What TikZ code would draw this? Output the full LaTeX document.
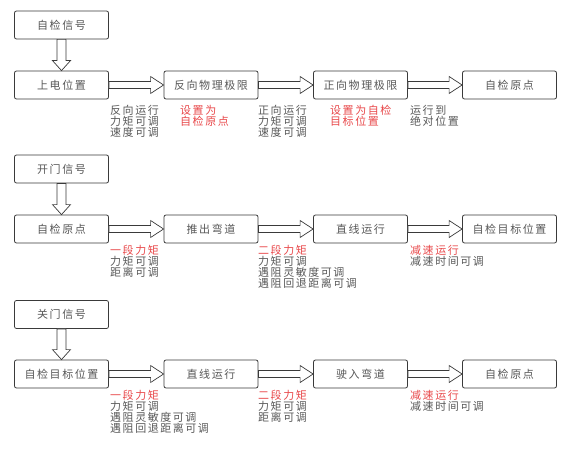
\documentclass[tikz,border=0pt]{standalone}
\usepackage{fontspec}
\setmainfont{Noto Sans CJK SC}[LetterSpace=14]
\usetikzlibrary{calc}
\definecolor{txtgray}{HTML}{585858}
\definecolor{linegray}{HTML}{3A3A3A}
\definecolor{notered}{HTML}{E8484A}

\begin{document}
\begin{tikzpicture}[x=1pt, y=-1pt,
    every node/.style={font=\fontsize{11}{11}\selectfont, text=txtgray},
    box/.style={rectangle, draw=linegray, line width=0.8pt, rounded corners=2pt,
                minimum width=94pt, minimum height=28pt, fill=white, inner sep=0pt},
    note/.style={anchor=north west, align=left, inner sep=0pt},
    hot/.style={note, text=notered},
    harr/.style={draw=linegray, fill=white, line width=0.7pt,
        to path={let \p1=(\tikztostart), \p2=(\tikztotarget) in
            (\x1,\y1+3.5pt) -- (\x2-13pt,\y1+3.5pt) -- (\x2-13pt,\y1+8.5pt) -- (\x2,\y2)
            -- (\x2-13pt,\y1-8.5pt) -- (\x2-13pt,\y1-3.5pt) -- (\x1,\y1-3.5pt) -- cycle}},
    varr/.style={draw=linegray, fill=white, line width=0.7pt,
        to path={let \p1=(\tikztostart), \p2=(\tikztotarget) in
            (\x1-4.5pt,\y1) -- (\x1-4.5pt,\y2+10pt) -- (\x1-9pt,\y2+10pt) -- (\x2,\y2)
            -- (\x1+9pt,\y2+10pt) -- (\x1+4.5pt,\y2+10pt) -- (\x1+4.5pt,\y1) -- cycle}}
]
\useasboundingbox (0,0) rectangle (577,449);

% self check
\node[box] (chkSig)   at (61.5, 25)  {自检信号};
\node[box] (powerOn)  at (61.5, 85)  {上电位置};
\node[box] (revLimit) at (211, 85)   {反向物理极限};
\node[box] (fwdLimit) at (360.5, 85) {正向物理极限};
\node[box] (chkHome)  at (509.5, 85) {自检原点};

\draw[varr] (chkSig.south) to (powerOn.north);
\draw[harr] (powerOn.east) to (revLimit.west);
\draw[harr] (revLimit.east) to (fwdLimit.west);
\draw[harr] (fwdLimit.east) to (chkHome.west);

\node[note] (n11) at (110, 105) {反向运行\\力矩可调\\速度可调};
\node[hot]  (n12) at (180, 105) {设置为\\自检原点};
\node[note] (n13) at (258, 105) {正向运行\\力矩可调\\速度可调};
\node[hot]  (n14) at (330, 105) {设置为自检\\目标位置};
\node[note] (n15) at (410, 105) {运行到\\绝对位置};

% open door
\node[box] (openSig)    at (61.5, 169)  {开门信号};
\node[box] (openHome)   at (61.5, 229)  {自检原点};
\node[box] (pushOut)    at (211, 229)   {推出弯道};
\node[box] (openLine)   at (360.5, 229) {直线运行};
\node[box] (openTarget) at (509.5, 229) {自检目标位置};

\draw[varr] (openSig.south) to (openHome.north);
\draw[harr] (openHome.east) to (pushOut.west);
\draw[harr] (pushOut.east) to (openLine.west);
\draw[harr] (openLine.east) to (openTarget.west);

\node[note] (n21) at (110, 245) {\textcolor{notered}{一段力矩}\\力矩可调\\距离可调};
\node[note] (n22) at (258, 245) {\textcolor{notered}{二段力矩}\\力矩可调\\遇阻灵敏度可调\\遇阻回退距离可调};
\node[note] (n23) at (410, 245) {\textcolor{notered}{减速运行}\\减速时间可调};

% close door
\node[box] (closeSig)   at (61.5, 314.5) {关门信号};
\node[box] (closeStart) at (61.5, 374)   {自检目标位置};
\node[box] (closeLine)  at (211, 374)    {直线运行};
\node[box] (driveIn)    at (360.5, 374)  {驶入弯道};
\node[box] (closeHome)  at (509.5, 374)  {自检原点};

\draw[varr] (closeSig.south) to (closeStart.north);
\draw[harr] (closeStart.east) to (closeLine.west);
\draw[harr] (closeLine.east) to (driveIn.west);
\draw[harr] (driveIn.east) to (closeHome.west);

\node[note] (n31) at (110, 390) {\textcolor{notered}{一段力矩}\\力矩可调\\遇阻灵敏度可调\\遇阻回退距离可调};
\node[note] (n32) at (258, 390) {\textcolor{notered}{二段力矩}\\力矩可调\\距离可调};
\node[note] (n33) at (410, 390) {\textcolor{notered}{减速运行}\\减速时间可调};
\end{tikzpicture}
\end{document}
